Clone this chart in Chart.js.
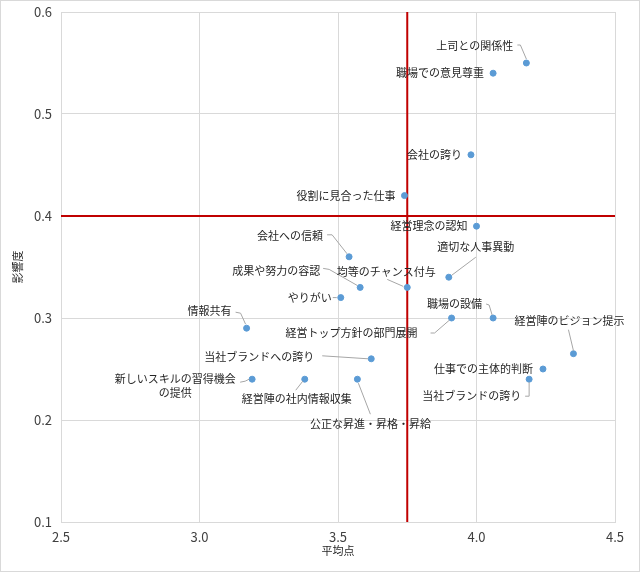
<!DOCTYPE html>
<html lang="ja">
<head>
<meta charset="UTF-8">
<title>平均点と影響度</title>
<script src="https://cdn.jsdelivr.net/npm/chart.js"></script>
<style>
  body { margin: 0; background: #ffffff; }
  #wrap { width: 640px; height: 572px; }
</style>
</head>
<body>
<div id="wrap"><canvas id="chart" width="640" height="572"></canvas></div>
<script>
// --- Daten ---
const items = [
  '上司との関係性', '職場での意見尊重', '会社の誇り', '役割に見合った仕事', '経営理念の認知',
  '会社への信頼', '成果や努力の容認', '均等のチャンス付与', '適切な人事異動', 'やりがい',
  '職場の設備', '経営トップ方針の部門展開', '経営陣のビジョン提示', '情報共有', '当社ブランドへの誇り',
  '仕事での主体的判断', '当社ブランドの誇り', '新しいスキルの習得機会\nの提供', '経営陣の社内情報収集', '公正な昇進・昇格・昇給'
];
const avgScore = [4.18, 4.06, 3.98, 3.74, 4.00, 3.54, 3.58, 3.75, 3.90, 3.51,
                  4.06, 3.91, 4.35, 3.17, 3.62, 4.24, 4.19, 3.19, 3.38, 3.57];
const impact   = [0.55, 0.54, 0.46, 0.42, 0.39, 0.36, 0.33, 0.33, 0.34, 0.32,
                  0.30, 0.30, 0.265, 0.29, 0.26, 0.25, 0.24, 0.24, 0.24, 0.24];
const xRange = [2.5, 4.5];
const yRange = [0.1, 0.6];
const meanScore = 3.75;   // rote senkrechte Linie
const meanImpact = 0.4;   // rote waagerechte Linie

// Beschriftung: [dx, dy, Ausrichtung] relativ zum Punkt, plus Führungslinie
const labelPos = [
  [-13, -17, 'right'], [-9, 0, 'right'], [-9, 0, 'right'], [-9, 0, 'right'], [-9, 0, 'right'],
  [-26, -21, 'right'], [-40, -17, 'right'], [-21, -16, 'center'], [27, -30, 'center'], [-9, 0, 'right'],
  [-11, -14, 'right'], [-34, 15, 'right'], [-4, -33, 'center'], [-15, -17, 'right'], [-57, -2, 'right'],
  [-10, 0, 'right'], [-8, 17, 'right'], [-77, 0, 'center'], [-8, 20, 'center'], [13, 45, 'center']
];
const leaders = [
  [[-9, -18], [-6, -18], [0, -4]], null, null, null, null,
  [[-22, -22], [-17, -22], [-2, -3]], [[-37, -19], [-31, -18], [-3, -2]], [[-20, -8], [-4, -1]], [[27, -20], [3, -2]], [[-8, 0], [-4, 0]],
  [[-7, -14], [-4, -13], [-1, -3]], [[-21, 15], [-17, 15], [-2, 2]], [[-5, -24], [0, -3]], [[-11, -16], [-6, -15], [-1, -4]], [[-49, -3], [-3, 0]],
  null, [[-4, 17], [0, 17], [0, 3]], [[-12, 3], [-7, 2], [-3, 0]], [[-9, 11], [-2, 2]], [[1, 4], [13, 35]]
];

const FONT = '"Noto Sans CJK JP", "Noto Sans", sans-serif';

// Punktbeschriftungen + Rahmen
const labelPlugin = {
  id: 'pointLabels',
  afterDatasetsDraw(chart) {
    const ctx = chart.ctx;
    const meta = chart.getDatasetMeta(0);
    ctx.save();
    meta.data.forEach((pt, i) => {
      const lead = leaders[i];
      if (lead) {
        ctx.beginPath();
        ctx.strokeStyle = '#a6a6a6';
        ctx.lineWidth = 1;
        lead.forEach((p, k) => {
          const px = pt.x + p[0], py = pt.y + p[1];
          if (k === 0) ctx.moveTo(px, py); else ctx.lineTo(px, py);
        });
        ctx.stroke();
      }
      const [dx, dy, align] = labelPos[i];
      ctx.font = '11px ' + FONT;
      ctx.fillStyle = '#262626';
      ctx.textAlign = align;
      ctx.textBaseline = 'middle';
      items[i].split('\n').forEach((line, k) => {
        ctx.fillText(line, pt.x + dx, pt.y + dy + k * 14);
      });
    });
    ctx.strokeStyle = '#d9d9d9';
    ctx.lineWidth = 1;
    ctx.strokeRect(0.5, 0.5, chart.width - 1, chart.height - 1);
    ctx.restore();
  }
};

new Chart(document.getElementById('chart'), {
  type: 'scatter',
  data: {
    datasets: [
      {
        label: '項目',
        data: avgScore.map((x, i) => ({ x: x, y: impact[i] })),
        backgroundColor: '#5b9bd5',
        borderColor: '#5b9bd5',
        pointRadius: 3,
        order: 0
      },
      {
        type: 'line',
        data: [{ x: meanScore, y: yRange[0] }, { x: meanScore, y: yRange[1] }],
        borderColor: '#c00000',
        borderWidth: 2,
        pointRadius: 0,
        order: 1
      },
      {
        type: 'line',
        data: [{ x: xRange[0], y: meanImpact }, { x: xRange[1], y: meanImpact }],
        borderColor: '#c00000',
        borderWidth: 2,
        pointRadius: 0,
        order: 1
      }
    ]
  },
  options: {
    responsive: false,
    animation: false,
    layout: { padding: { top: 12, right: 25, left: 0, bottom: 0 } },
    plugins: {
      legend: { display: false },
      tooltip: { enabled: false }
    },
    scales: {
      x: {
        type: 'linear',
        min: xRange[0], max: xRange[1],
        ticks: { stepSize: 0.5, padding: 7, color: '#404040', font: { family: FONT, size: 13 },
                 callback: v => v.toFixed(1) },
        grid: { color: '#d9d9d9', drawTicks: false },
        border: { color: '#d9d9d9' },
        title: { display: true, text: '平均点', color: '#262626', font: { family: FONT, size: 11 },
                 padding: { top: 0, bottom: 15 } },
        afterFit: s => { s.height = 50; s.paddingLeft = 0; s.paddingRight = 0; }
      },
      y: {
        min: yRange[0], max: yRange[1],
        ticks: { stepSize: 0.1, padding: 9, color: '#404040', font: { family: FONT, size: 13 },
                 callback: v => v.toFixed(1) },
        grid: { color: '#d9d9d9', drawTicks: false },
        border: { color: '#d9d9d9' },
        title: { display: true, text: '影響度', color: '#262626', font: { family: FONT, size: 11 },
                 padding: { top: 11, bottom: 0 } },
        afterFit: s => { s.width = 61; s.paddingTop = 0; s.paddingBottom = 0; }
      }
    }
  },
  plugins: [labelPlugin]
});
</script>
</body>
</html>
